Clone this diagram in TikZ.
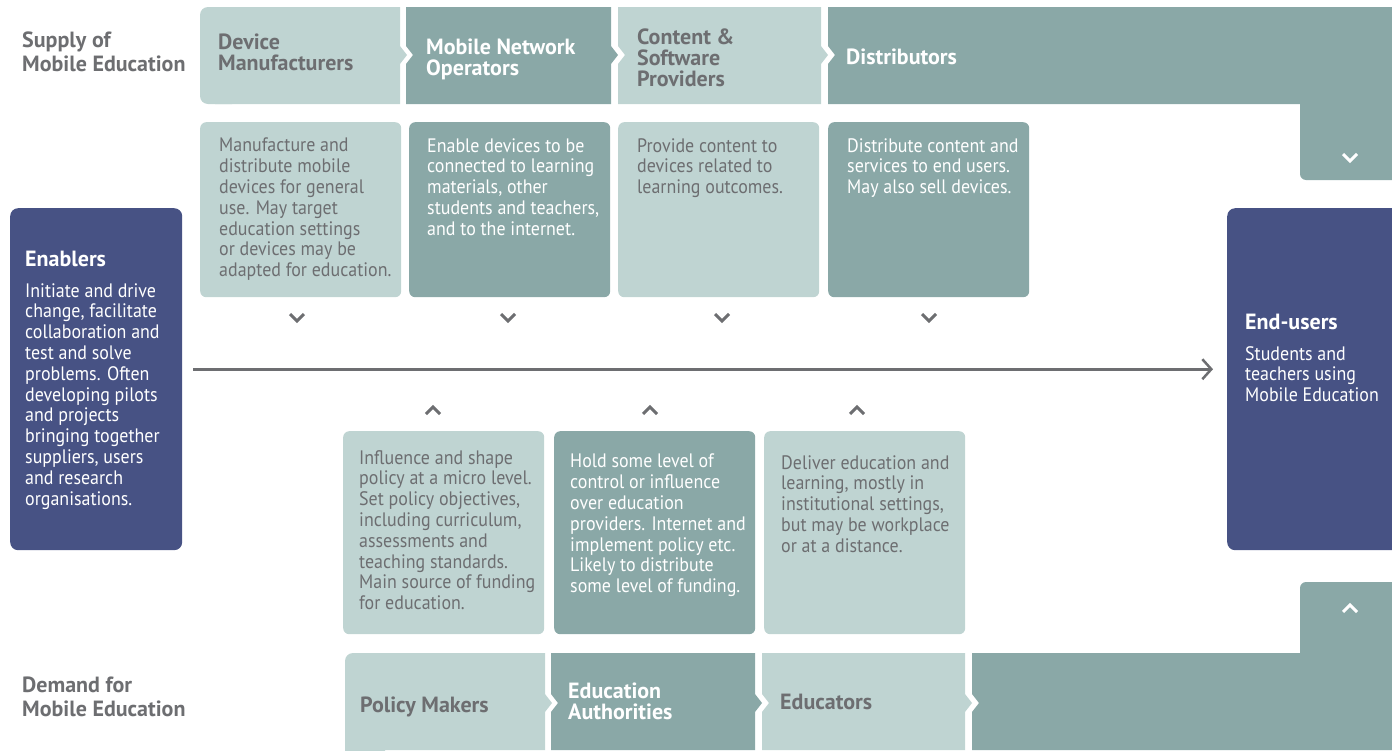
\documentclass[tikz,border=0pt]{standalone}
\usepackage{fontspec}
\setmainfont{PT Sans}[FakeStretch=0.92]
\newfontfamily\hfont{PT Sans}
\usetikzlibrary{arrows.meta}
\definecolor{lightc}{HTML}{BFD4D2}
\definecolor{darkc}{HTML}{8AA8A7}
\definecolor{navy}{HTML}{475284}
\definecolor{txt}{HTML}{6D6E71}
\tikzset{
  desc/.style={anchor=north west, inner sep=0pt, align=left, font=\fontsize{19.5}{20.8}\selectfont},
  head/.style={anchor=north west, inner sep=0pt, align=left, font=\hfont\bfseries\fontsize{22}{21}\selectfont},
  sidelabel/.style={anchor=north west, inner sep=0pt, align=left, text=txt, font=\hfont\bfseries\fontsize{22}{24}\selectfont},
  panel/.style={anchor=north west, inner sep=0pt, rounded corners=6pt, minimum width=201pt, minimum height=175pt},
  bigpanel/.style={anchor=north west, inner sep=0pt, rounded corners=8pt, fill=navy, minimum height=342pt},
  chev/.style={draw=txt, line width=3pt},
  wchev/.style={draw=white, line width=3pt},
  flow/.style={draw=txt, line width=3pt, -{Straight Barb[length=9pt, width=20pt, line width=2.5pt]}},
}
\begin{document}
\begin{tikzpicture}[x=1pt, y=-1pt]
\useasboundingbox (0,0) rectangle (1392,750);
% ---------- top (supply) row ----------
\fill[lightc, rounded corners=8pt] (200,7) rectangle (240,104);
\fill[lightc] (215,7) -- (400,7) -- (400,46) -- (407,55) -- (400,64) -- (400,104) -- (215,104) -- cycle;
\fill[darkc] (406,7) -- (611,7) -- (611,46) -- (618,55) -- (611,64) -- (611,104) -- (406,104) -- (406,64) -- (413,55) -- (406,46) -- cycle;
\fill[lightc] (618,7) -- (821,7) -- (821,46) -- (828,55) -- (821,64) -- (821,104) -- (618,104) -- (618,64) -- (625,55) -- (618,46) -- cycle;
\fill[darkc] (828,7) -- (1392,7) -- (1392,150) -- (1300,150) -- (1300,104) -- (828,104) -- (828,64) -- (835,55) -- (828,46) -- cycle;
\fill[darkc, rounded corners=6pt] (1300,120) rectangle (1400,180);
\node[head, text=txt] (hdm) at (218,34) {Device\\Manufacturers};
\node[head, text=white] (hmno) at (426,39) {Mobile Network\\Operators};
\node[head, text=txt] (hcsp) at (637,29) {Content \&\\Software\\Providers};
\node[head, text=white] (hdist) at (846,49) {Distributors};
\draw[wchev] (1343,154) -- (1350,161) -- (1357,154);
% ---------- supply descriptions ----------
\node[panel, fill=lightc] (pdm) at (200,122) {};
\node[panel, fill=darkc] (pmno) at (409,122) {};
\node[panel, fill=lightc] (pcsp) at (618,122) {};
\node[panel, fill=darkc] (pdist) at (828,122) {};
\node[desc, text=txt] (tdm) at (219,138) {Manufacture and\\distribute mobile\\devices for general\\use. May target\\education settings\\or devices may be\\adapted for education.};
\node[desc, text=white] (tmno) at (427,138) {Enable devices to be\\connected to learning\\materials, other\\students and teachers,\\and to the internet.};
\node[desc, text=txt] (tcsp) at (637,138) {Provide content to\\devices related to\\learning outcomes.};
\node[desc, text=white] (tdist) at (847,138) {Distribute content and\\services to end users.\\May also sell devices.};
\foreach \x in {297,508,722,929} \draw[chev] (\x-7,314) -- (\x,321) -- (\x+7,314);
% ---------- enablers / end-users ----------
\node[bigpanel, minimum width=172pt] (enablers) at (10,208) {};
\node[bigpanel, minimum width=180pt] (endusers) at (1227,208) {};
\node[head, text=white] (henab) at (25,251) {Enablers};
\node[desc, text=white] (tenab) at (25,283) {Initiate and drive\\change, facilitate\\collaboration and\\test and solve\\problems. Often\\developing pilots\\and projects\\bringing together\\suppliers, users\\and research\\organisations.};
\node[head, text=white] (hend) at (1245,314) {End-users};
\node[desc, text=white] (tend) at (1245,346) {Students and\\teachers using\\Mobile Education};
\draw[flow] ([shift={(11,-10)}]enablers.east) -- ([shift={(-14,-10)}]endusers.west);
% ---------- demand descriptions ----------
\foreach \x in {433,650,857} \draw[chev] (\x-7,414) -- (\x,407) -- (\x+7,414);
\node[panel, fill=lightc, minimum height=203pt] (ppol) at (343,431) {};
\node[panel, fill=darkc, minimum height=203pt] (pea) at (554,431) {};
\node[panel, fill=lightc, minimum height=203pt] (pedu) at (764,431) {};
\node[desc, text=txt] (tpol) at (359,450) {Influence and shape\\policy at a micro level.\\Set policy objectives,\\including curriculum,\\assessments and\\teaching standards.\\Main source of funding\\for education.};
\node[desc, text=white] (tea) at (570,454) {Hold some level of\\control or influence\\over education\\providers. Internet and\\implement policy etc.\\Likely to distribute\\some level of funding.};
\node[desc, text=txt] (tedu) at (781,455) {Deliver education and\\learning, mostly in\\institutional settings,\\but may be workplace\\or at a distance.};
% ---------- bottom (demand) row ----------
\fill[lightc, rounded corners=8pt] (345,653) rectangle (385,760);
\fill[lightc] (360,653) -- (545,653) -- (545,694) -- (552,703) -- (545,712) -- (545,750) -- (360,750) -- cycle;
\fill[darkc] (551,653) -- (755,653) -- (755,694) -- (762,703) -- (755,712) -- (755,750) -- (551,750) -- (551,712) -- (558,703) -- (551,694) -- cycle;
\fill[lightc] (762,653) -- (965,653) -- (965,694) -- (972,703) -- (965,712) -- (965,750) -- (762,750) -- (762,712) -- (769,703) -- (762,694) -- cycle;
\fill[darkc] (972,653) -- (1300,653) -- (1300,620) -- (1392,620) -- (1392,750) -- (972,750) -- (972,712) -- (979,703) -- (972,694) -- cycle;
\fill[darkc, rounded corners=6pt] (1300,582) rectangle (1400,640);
\draw[wchev] (1343,612) -- (1350,605) -- (1357,612);
\node[head, text=txt] (hpol) at (360,697) {Policy Makers};
\node[head, text=white] (hea) at (568,683) {Education\\Authorities};
\node[head, text=txt] (hedu) at (780,694) {Educators};
% ---------- side labels ----------
\node[sidelabel] (lsup) at (22,32) {Supply of\\Mobile Education};
\node[sidelabel] (ldem) at (22,677) {Demand for\\Mobile Education};
\end{tikzpicture}
\end{document}
